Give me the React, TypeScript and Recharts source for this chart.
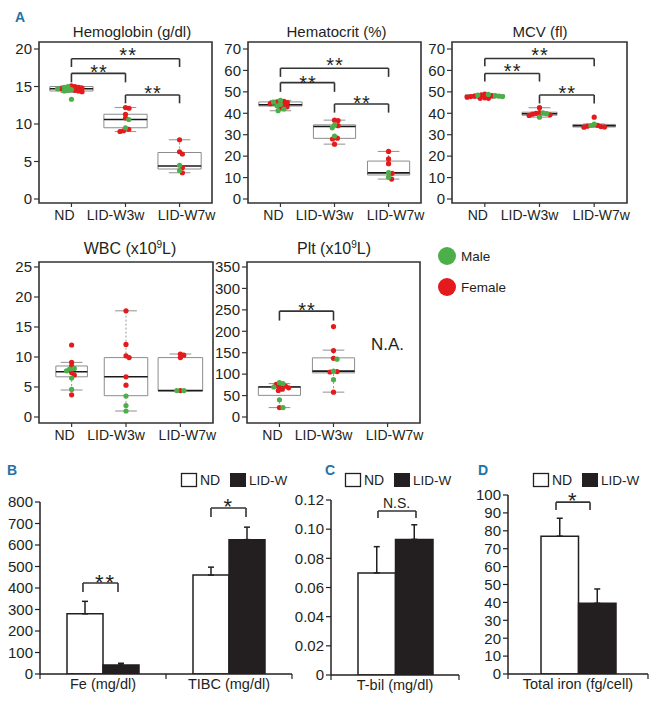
import React from 'react';
import {
  ComposedChart,
  Scatter,
  XAxis,
  YAxis,
  ReferenceArea,
  ReferenceLine,
  ReferenceDot,
  Bar,
  ErrorBar,
} from 'recharts';

const FONT = '"Liberation Sans", Arial, Helvetica, sans-serif';
const INK = '#231f20';
const FRAME = '#333333';
const RED = '#e41a1c';
const GREEN = '#4daf4a';
const BLUE = '#1e73a8';
const BOXC = '#8c8c8c';
const WHISK = '#9a9a9a';

// ---------- Panel A: categories ----------
const groupLabels = ['ND', 'LID-W3w', 'LID-W7w'];

// Hemoglobin (g/dl)
const hbTicks = [0, 5, 10, 15, 20];
const hbFemale = [
  [15.1, 15.0, 14.9, 14.8, 14.7, 14.5, 14.4, 14.3],
  [12.2, 12.1, 11.3, 10.8, 9.3, 9.1, 9.0],
  [7.9, 6.3, 6.0, 4.2, 3.5],
];
const hbMale = [
  [15.0, 14.9, 14.7, 14.6, 14.5, 14.4, 13.3],
  [10.6, 9.5],
  [4.5, 3.8],
];
// [whisker low, q1, median, q3, whisker high]
const hbStats = [
  [14.2, 14.4, 14.7, 15.0, 15.1],
  [9.0, 9.5, 10.6, 11.3, 12.2],
  [3.5, 4.0, 4.4, 6.2, 7.9],
];
const hbBrackets = [
  [1, 3, 18.7, 17.6],
  [1, 2, 16.75, 15.55],
  [2, 3, 13.87, 12.76],
];
const hbNotes: [number, number, string][] = [
  [2.04, 19.8, '**'],
  [1.5, 17.5, '**'],
  [2.5, 14.7, '**'],
];

// Hematocrit (%)
const hctTicks = [0, 10, 20, 30, 40, 50, 60, 70];
const hctFemale = [
  [45.6, 45.3, 45.0, 44.5, 43.8, 43.0, 42.5],
  [36.8, 36.6, 34.2, 28.4, 28.0, 25.6],
  [22.2, 18.7, 16.5, 12.0, 9.3],
];
const hctMale = [
  [46.0, 45.2, 44.2, 43.5, 42.0, 41.2],
  [34.5, 33.2, 29.4],
  [12.3, 10.2],
];
const hctStats = [
  [41.2, 43.4, 44.0, 45.3, 46.0],
  [25.6, 28.3, 33.8, 34.6, 36.8],
  [9.3, 11.2, 12.2, 17.7, 22.2],
];
const hctBrackets = [
  [1, 3, 61, 57],
  [1, 2, 54.3, 50],
  [2, 3, 44.3, 40.3],
];
const hctNotes: [number, number, string][] = [
  [2.0, 64.9, '**'],
  [1.5, 56.5, '**'],
  [2.5, 46.8, '**'],
];

// MCV (fl)
const mcvTicks = [0, 10, 20, 30, 40, 50, 60, 70];
const mcvFemale = [
  [49.0, 48.6, 48.2, 48.0, 47.8, 47.5, 47.2, 47.0, 47.0],
  [42.6, 40.3, 40.0, 39.6, 39.3, 39.0],
  [38.2, 34.4, 34.0, 33.8, 33.6, 33.5],
];
const mcvMale = [
  [48.8, 48.5, 48.2, 48.0, 47.8],
  [40.2, 39.8, 38.2],
  [35.0, 34.3],
];
const mcvStats = [
  [47.0, 47.5, 48.1, 48.6, 49.0],
  [38.2, 39.1, 39.8, 40.5, 42.6],
  [33.5, 33.6, 34.2, 34.8, 35.0],
];
const mcvBrackets = [
  [1, 3, 65.6, 62],
  [1, 2, 58.6, 54.8],
  [2, 3, 48.5, 44.6],
];
const mcvNotes: [number, number, string][] = [
  [2.0, 69.5, '**'],
  [1.5, 62, '**'],
  [2.5, 51.6, '**'],
];

// WBC (x10^9/L)
const wbcTicks = [0, 5, 10, 15, 20, 25];
const wbcFemale = [
  [12.0, 9.1, 8.5, 7.4, 7.0, 3.7],
  [17.7, 12.1, 10.2, 9.9, 6.7, 5.3],
  [10.5, 10.3, 9.9, 4.4],
];
const wbcMale = [
  [8.1, 8.0, 7.7, 6.5, 4.6],
  [3.5, 1.9, 1.0],
  [4.4, 4.4],
];
const wbcStats = [
  [4.5, 6.7, 7.55, 8.5, 9.1],
  [1.0, 3.55, 6.7, 9.9, 17.7],
  [4.4, 4.4, 4.4, 9.9, 10.5],
];

// Plt (x10^9/L)
const pltTicks = [0, 50, 100, 150, 200, 250, 300, 350];
const pltFemale = [
  [76, 72, 70, 68, 65, 62, 22],
  [211, 155, 137, 106, 105, 58],
  [],
];
const pltMale = [
  [80, 78, 70, 40, 22],
  [135, 107, 87],
  [],
];
const pltStats = [
  [22, 50.5, 70, 71, 78],
  [58, 103, 107, 138, 156],
  null,
];
const pltBrackets = [[1, 2, 247, 225]];
const pltNotes: [number, number, string][] = [
  [1.5, 261, '**'],
  [3, 170, 'N.A.'],
];

// ---------- Panels B, C, D ----------
const bCats = ['Fe (mg/dl)', 'TIBC (mg/dl)'];
const bTicks = [0, 100, 200, 300, 400, 500, 600, 700, 800];
const bND = [280, 460];
const bNDErr = [58, 37];
const bLID = [42, 625];
const bLIDErr = [8, 58];
const bBrackets = [
  [0.341, 0.619, 423, 381],
  [1.357, 1.635, 772, 730],
];
const bNotes: [number, number, string][] = [
  [0.512, 451, '**'],
  [1.49, 805, '*'],
];

const cCats = ['T-bil (mg/dl)'];
const cTicks = [0, 0.02, 0.04, 0.06, 0.08, 0.1, 0.12];
const cND = [0.07];
const cNDErr = [0.018];
const cLID = [0.093];
const cLIDErr = [0.01];
const cBrackets = [[0.367, 0.664, 0.1125, 0.1077]];
const cNotes: [number, number, string][] = [[0.512, 0.118, 'N.S.']];

const dCats = ['Total iron (fg/cell)'];
const dTicks = [0, 10, 20, 30, 40, 50, 60, 70, 80, 90, 100];
const dND = [77];
const dNDErr = [10];
const dLID = [39.5];
const dLIDErr = [8];
const dBrackets = [[0.343, 0.586, 96, 91.6]];
const dNotes: [number, number, string][] = [[0.46, 100, '*']];

// ---------- layout ----------
const X0 = 0.4;
const X1 = 3.6;
const FRAME_H = 161;
const TICK_DX = [-7, -10, 7];
const DOT_SPACING = 3.6;

function swarm(vals: number[], pxY: number, d: number): number[] {
  const idx = vals.map((_, i) => i).sort((a, b) => vals[b] - vals[a]);
  const placed: { x: number; y: number }[] = [];
  const out: number[] = new Array(vals.length).fill(0);
  for (const i of idx) {
    const y = vals[i] * pxY;
    const near = placed.filter((q) => Math.abs(q.y - y) < d);
    const cands = [0];
    near.forEach((q) => {
      const dx = Math.sqrt(Math.max(0, d * d - (q.y - y) * (q.y - y)));
      cands.push(q.x + dx, q.x - dx);
    });
    cands.sort((a, b) => Math.abs(a) - Math.abs(b));
    let xx = 0;
    for (const c of cands) {
      if (near.every((q) => (q.x - c) ** 2 + (q.y - y) ** 2 >= d * d - 0.01)) {
        xx = c;
        break;
      }
    }
    placed.push({ x: xx, y });
    out[i] = xx;
  }
  return out;
}

function noteShape(text: string, size: number, ls: number) {
  return (d: any) => {
    const star = /^\*+$/.test(text);
    const dy = star ? size * 0.58 : size * 0.36;
    return (
      <text
        x={d.cx + ls / 2}
        y={d.cy + dy}
        textAnchor="middle"
        fontSize={size}
        letterSpacing={ls}
        fill={INK}
        fontFamily={FONT}
      >
        {text}
      </text>
    );
  };
}

function bracketLines(br: number[][], keyp: string, xAxisId?: string) {
  const els: any[] = [];
  br.forEach((b, i) => {
    const [xa, xb, top, drop] = b;
    const common: any = { stroke: FRAME, strokeWidth: 1.6, ifOverflow: 'visible' };
    if (xAxisId) common.xAxisId = xAxisId;
    els.push(<ReferenceLine key={`${keyp}l${i}`} segment={[{ x: xa, y: drop }, { x: xa, y: top }]} {...common} />);
    els.push(<ReferenceLine key={`${keyp}h${i}`} segment={[{ x: xa, y: top }, { x: xb, y: top }]} {...common} />);
    els.push(<ReferenceLine key={`${keyp}r${i}`} segment={[{ x: xb, y: top }, { x: xb, y: drop }]} {...common} />);
  });
  return els;
}

function GroupTick(props: any) {
  const { x, y, payload } = props;
  const i = Math.round(payload.value) - 1;
  return (
    <text x={x + TICK_DX[i]} y={y} dy="0.71em" textAnchor="middle" fontSize={14} fill={INK} fontFamily={FONT}>
      {groupLabels[i]}
    </text>
  );
}

function BoxPanel({ p }: { p: any }) {
  const YW = 38;
  const MT = 3;
  const MR = 4;
  const XH = 32;
  const [y0, y1] = p.domain;
  const pxY = FRAME_H / (y1 - y0);
  const pxX = p.w / (X1 - X0);
  const fem: any[] = [];
  const mal: any[] = [];
  p.female.forEach((fv: number[], gi: number) => {
    const mv: number[] = p.male[gi];
    const all = [...fv, ...mv];
    const off = swarm(all, pxY, DOT_SPACING);
    all.forEach((v, k) => (k < fv.length ? fem : mal).push({ x: gi + 1 + off[k] / pxX, y: v }));
  });
  const els: any[] = [];
  p.stats.forEach((s: number[] | null, gi: number) => {
    if (!s) return;
    const g = gi + 1;
    const hw = p.halfW[gi];
    const cw = 0.2;
    const [lo, q1, med, q3, hi] = s;
    els.push(
      <ReferenceLine key={`wu${gi}`} segment={[{ x: g, y: q3 }, { x: g, y: hi }]} stroke={WHISK} strokeDasharray="2 2" ifOverflow="visible" />,
      <ReferenceLine key={`wl${gi}`} segment={[{ x: g, y: lo }, { x: g, y: q1 }]} stroke={WHISK} strokeDasharray="2 2" ifOverflow="visible" />,
      <ReferenceLine key={`cu${gi}`} segment={[{ x: g - cw, y: hi }, { x: g + cw, y: hi }]} stroke={WHISK} strokeWidth={1.1} ifOverflow="visible" />,
      <ReferenceLine key={`cl${gi}`} segment={[{ x: g - cw, y: lo }, { x: g + cw, y: lo }]} stroke={WHISK} strokeWidth={1.1} ifOverflow="visible" />,
      <ReferenceArea key={`bx${gi}`} x1={g - hw} x2={g + hw} y1={q1} y2={q3} fill="none" fillOpacity={0} stroke={BOXC} strokeWidth={1} ifOverflow="visible" />,
      <ReferenceLine key={`md${gi}`} segment={[{ x: g - hw, y: med }, { x: g + hw, y: med }]} stroke="#1a1a1a" strokeWidth={1.6} ifOverflow="visible" />
    );
  });
  const notes = p.notes.map((n: [number, number, string], i: number) => {
    const star = /^\*+$/.test(n[2]);
    return (
      <ReferenceDot
        key={`n${i}`}
        x={n[0]}
        y={n[1]}
        r={0}
        ifOverflow="visible"
        shape={noteShape(n[2], star ? 20 : 17, star ? 1 : 0)}
      />
    );
  });
  const W = YW + p.w + MR;
  const H = MT + FRAME_H + XH;
  return (
    <div style={{ position: 'absolute', left: p.left - YW, top: p.top - MT }}>
      <ComposedChart width={W} height={H} margin={{ top: MT, right: MR, bottom: 0, left: 0 }}>
        <XAxis
          type="number"
          dataKey="x"
          domain={[X0, X1]}
          allowDataOverflow
          ticks={[1, 2, 3]}
          interval={0}
          axisLine={false}
          tickLine={{ stroke: FRAME, strokeWidth: 1.2 }}
          tickSize={4}
          tickMargin={3}
          height={XH}
          tick={(t: any) => <GroupTick {...t} />}
        />
        <YAxis
          type="number"
          dataKey="y"
          domain={p.domain}
          allowDataOverflow
          ticks={p.ticks}
          interval={0}
          axisLine={false}
          tickLine={{ stroke: FRAME, strokeWidth: 1.2 }}
          tickSize={5}
          tickMargin={2}
          width={YW}
          tick={{ fontSize: 15, fill: INK, fontFamily: FONT }}
        />
        {els}
        {bracketLines(p.brackets, 'b')}
        {notes}
        <Scatter
          data={fem}
          isAnimationActive={false}
          shape={(d: any) => <circle cx={d.cx} cy={d.cy} r={2.6} fill={RED} />}
        />
        <Scatter
          data={mal}
          isAnimationActive={false}
          shape={(d: any) => <circle cx={d.cx} cy={d.cy} r={2.6} fill={GREEN} />}
        />
        <ReferenceArea x1={X0} x2={X1} y1={y0} y2={y1} fill="none" fillOpacity={0} stroke={FRAME} strokeWidth={1.6} ifOverflow="visible" />
      </ComposedChart>
    </div>
  );
}

// tick coordinate arrives 2px below the axis line (tickSize 1 + tickMargin 1)
function CatTick(props: any) {
  const { x, y, payload, labels, size } = props;
  const v = payload.value;
  const axisY = y - 2;
  if (Math.abs(v - Math.round(v)) < 1e-6) {
    return <line x1={x} y1={axisY} x2={x} y2={axisY + 5} stroke={INK} strokeWidth={1.2} />;
  }
  const idx = Math.floor(v);
  return (
    <text x={x} y={axisY + 5} dy="0.71em" textAnchor="middle" fontSize={size} fill={INK} fontFamily={FONT}>
      {labels[idx]}
    </text>
  );
}

function BarPanel({ c }: { c: any }) {
  const YW = 40;
  const MT = 14;
  const MR = 4;
  const XH = 26;
  const n = c.cats.length;
  const data = c.cats.map((cat: string, i: number) => ({
    cat,
    pos: i + 0.5,
    nd: c.nd[i],
    ndErr: [0, c.ndErr[i]],
    lid: c.lid[i],
    lidErr: [0, c.lidErr[i]],
  }));
  const numTicks = Array.from({ length: 2 * n + 1 }, (_, i) => i / 2);
  const W = YW + c.w + MR;
  const H = MT + c.h + XH;
  const notes = c.notes.map((nt: [number, number, string], i: number) => {
    const star = /^\*+$/.test(nt[2]);
    return (
      <ReferenceDot
        key={`bn${i}`}
        xAxisId="num"
        x={nt[0]}
        y={nt[1]}
        r={0}
        ifOverflow="visible"
        shape={noteShape(nt[2], star ? 22 : 14, star ? 2 : 0)}
      />
    );
  });
  return (
    <div style={{ position: 'absolute', left: c.left - YW, top: c.top - MT }}>
      <ComposedChart
        width={W}
        height={H}
        data={data}
        margin={{ top: MT, right: MR, bottom: 0, left: 0 }}
        barGap={0}
        barCategoryGap={0}
      >
        <XAxis
          xAxisId="num"
          dataKey="pos"
          type="number"
          domain={[0, n]}
          allowDataOverflow
          ticks={numTicks}
          interval={0}
          tickLine={false}
          tickSize={1}
          tickMargin={1}
          height={XH}
          axisLine={{ stroke: INK, strokeWidth: 1.5 }}
          tick={(t: any) => <CatTick {...t} labels={c.cats} size={c.labelSize} />}
        />
        <XAxis xAxisId="cat" dataKey="cat" type="category" hide height={0} />
        <YAxis
          type="number"
          domain={c.domain}
          allowDataOverflow
          ticks={c.ticks}
          interval={0}
          width={YW}
          tickSize={5}
          tickMargin={2}
          axisLine={{ stroke: INK, strokeWidth: 1.5 }}
          tickLine={{ stroke: INK, strokeWidth: 1.2 }}
          tick={{ fontSize: 15, fill: INK, fontFamily: FONT }}
          tickFormatter={c.fmt}
        />
        <Bar xAxisId="cat" dataKey="nd" barSize={c.barW} fill="#ffffff" stroke={INK} strokeWidth={1.5} isAnimationActive={false}>
          <ErrorBar dataKey="ndErr" width={3} stroke={INK} strokeWidth={1.5} direction="y" isAnimationActive={false} />
        </Bar>
        <Bar xAxisId="cat" dataKey="lid" barSize={c.barW} fill={INK} stroke={INK} strokeWidth={1.5} isAnimationActive={false}>
          <ErrorBar dataKey="lidErr" width={3} stroke={INK} strokeWidth={1.5} direction="y" isAnimationActive={false} />
        </Bar>
        {bracketLines(c.brackets, 'bb', 'num')}
        {notes}
      </ComposedChart>
    </div>
  );
}

const boxPanels = [
  { key: 'hb', left: 39, top: 42, w: 173, domain: [-0.533, 20.933], ticks: hbTicks, female: hbFemale, male: hbMale, stats: hbStats, brackets: hbBrackets, notes: hbNotes, halfW: [0.4, 0.4, 0.4] },
  { key: 'hct', left: 248, top: 42, w: 173, domain: [-1.867, 73.267], ticks: hctTicks, female: hctFemale, male: hctMale, stats: hctStats, brackets: hctBrackets, notes: hctNotes, halfW: [0.4, 0.39, 0.39] },
  { key: 'mcv', left: 452, top: 42, w: 175, domain: [-1.867, 73.267], ticks: mcvTicks, female: mcvFemale, male: mcvMale, stats: mcvStats, brackets: mcvBrackets, notes: mcvNotes, halfW: [0.36, 0.32, 0.39] },
  { key: 'wbc', left: 39, top: 262, w: 174, domain: [-1.0, 25.833], ticks: wbcTicks, female: wbcFemale, male: wbcMale, stats: wbcStats, brackets: [], notes: [], halfW: [0.29, 0.4, 0.41] },
  { key: 'plt', left: 247, top: 262, w: 173, domain: [-14.0, 361.67], ticks: pltTicks, female: pltFemale, male: pltMale, stats: pltStats, brackets: pltBrackets, notes: pltNotes, halfW: [0.39, 0.39, 0.39] },
];

const fmtInt = (v: number) => String(v);
const fmtC = (v: number) => (v === 0 ? '0' : v.toFixed(2));

const barPanels = [
  { key: 'B', left: 40, top: 502, w: 252, h: 172, domain: [0, 800], ticks: bTicks, fmt: fmtInt, cats: bCats, nd: bND, ndErr: bNDErr, lid: bLID, lidErr: bLIDErr, brackets: bBrackets, notes: bNotes, barW: 36, labelSize: 14.5 },
  { key: 'C', left: 331, top: 500, w: 128, h: 175, domain: [0, 0.12], ticks: cTicks, fmt: fmtC, cats: cCats, nd: cND, ndErr: cNDErr, lid: cLID, lidErr: cLIDErr, brackets: cBrackets, notes: cNotes, barW: 37.5, labelSize: 14.5 },
  { key: 'D', left: 508, top: 495, w: 140, h: 179, domain: [0, 100], ticks: dTicks, fmt: fmtInt, cats: dCats, nd: dND, ndErr: dNDErr, lid: dLID, lidErr: dLIDErr, brackets: dBrackets, notes: dNotes, barW: 37.5, labelSize: 14.5 },
];

function BarLegend({ x }: { x: number }) {
  return (
    <g>
      <rect x={x + 0.5} y={473.5} width={15} height={13} fill="#fff" stroke={INK} strokeWidth={1.3} />
      <text x={x + 19} y={485} fontSize={14} fill={INK} fontFamily={FONT}>ND</text>
      <rect x={x + 49} y={473} width={16} height={14} fill={INK} />
      <text x={x + 68} y={485} fontSize={13.5} fill={INK} fontFamily={FONT}>LID-W</text>
    </g>
  );
}

export default function App() {
  return (
    <div
      style={{
        position: 'absolute',
        left: 0,
        top: 0,
        width: 651,
        height: 701,
        background: '#ffffff',
        fontFamily: FONT,
        overflow: 'hidden',
      }}
    >
      {boxPanels.map((p) => (
        <BoxPanel key={p.key} p={p} />
      ))}
      {barPanels.map((c) => (
        <BarPanel key={c.key} c={c} />
      ))}
      <svg
        width={651}
        height={701}
        style={{ position: 'absolute', left: 0, top: 0, pointerEvents: 'none' }}
      >
        <g fontFamily={FONT} fill={INK}>
          <text x={132} y={37} textAnchor="middle" fontSize={15}>Hemoglobin (g/dl)</text>
          <text x={336.5} y={37} textAnchor="middle" fontSize={15}>Hematocrit (%)</text>
          <text x={540} y={37} textAnchor="middle" fontSize={15}>MCV (fl)</text>
          <text x={130} y={254} textAnchor="middle" fontSize={16}>
            <tspan>WBC (x10</tspan>
            <tspan dy={-6} fontSize={10}>9</tspan>
            <tspan dy={6}>L)</tspan>
          </text>
          <text x={334} y={254} textAnchor="middle" fontSize={16}>
            <tspan>Plt (x10</tspan>
            <tspan dy={-6} fontSize={10}>9</tspan>
            <tspan dy={6}>L)</tspan>
          </text>
          <circle cx={447} cy={256} r={9} fill={GREEN} />
          <circle cx={447} cy={287} r={9} fill={RED} />
          <text x={461} y={261} fontSize={13.5}>Male</text>
          <text x={461} y={292} fontSize={13.5}>Female</text>
        </g>
        <g fontFamily={FONT} fill={BLUE} fontWeight="bold" fontSize={14}>
          <text x={15} y={22}>A</text>
          <text x={7} y={475}>B</text>
          <text x={325} y={475}>C</text>
          <text x={478} y={475}>D</text>
        </g>
        <BarLegend x={181} />
        <BarLegend x={345} />
        <BarLegend x={533} />
      </svg>
    </div>
  );
}
